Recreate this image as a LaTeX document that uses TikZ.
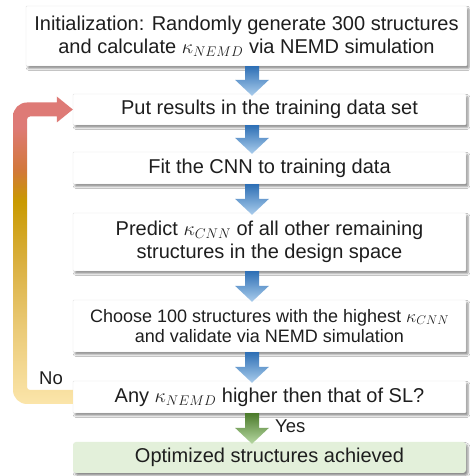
\RequirePackage{fix-cm}
\documentclass[tikz,border=0pt]{standalone}
\usepackage{fontspec}
\setmainfont{Liberation Sans}
\usetikzlibrary{calc,shadows.blur}

\definecolor{txt}{HTML}{1E1E1E}
\definecolor{boxedge}{HTML}{E4E4E4}
\definecolor{donefill}{HTML}{E3F0DA}
\definecolor{blueA}{HTML}{2E6FB5}
\definecolor{blueB}{HTML}{AACDEC}
\definecolor{greenA}{HTML}{4B7B2B}
\definecolor{greenB}{HTML}{B6D7A2}
\definecolor{loopA}{HTML}{FBE5AA}
\definecolor{loopB}{HTML}{EBCB78}
\definecolor{loopC}{HTML}{DAB040}
\definecolor{loopD}{HTML}{C99A00}
\definecolor{loopE}{HTML}{D2783A}
\definecolor{loopF}{HTML}{DE7A76}

% colour ramp of the feedback loop, bottom (light yellow) to top (salmon)
\pgfdeclareverticalshading{loopshade}{100bp}{%
  color(0bp)=(loopA); color(25bp)=(loopA); color(37bp)=(loopB);
  color(48bp)=(loopC); color(58bp)=(loopD); color(63bp)=(loopE);
  color(70bp)=(loopF); color(100bp)=(loopF)}

% block arrow from the bottom of #1 to the top of #2, shaded #3 -> #4
\newcommand\flowarrow[4]{%
  \shade[top color=#3,bottom color=#4]
    let \p1=(#1.south), \p2=(#2.north) in
    (245,\y1) -- (259,\y1) -- (259,\y2+14) -- (269,\y2+14) -- (252,\y2-2)
    -- (235,\y2+14) -- (245,\y2+14) -- cycle;}

\begin{document}
\begin{tikzpicture}[x=1pt,y=1pt,
  stepbox/.style={fill=white, draw=boxedge, line width=0.4pt,
    rounded corners=1pt, inner sep=0pt, align=center, text=txt,
    minimum width=393pt, font=\fontsize{20}{23}\selectfont,
    blur shadow={shadow xshift=2pt, shadow yshift=-2.5pt,
      shadow blur radius=2pt, shadow opacity=45}},
  smallbox/.style={stepbox, font=\fontsize{18}{20.5}\selectfont},
  donebox/.style={stepbox, fill=donefill, draw=none, rounded corners=3pt},
  tag/.style={inner sep=0pt, text=txt, anchor=base west,
    font=\fontsize{18.5}{20}\selectfont}]
\useasboundingbox (0,0) rectangle (470,476);
\fill[white] (0,0) rectangle (470,476);

% process steps
\node[stepbox, minimum width=441pt, minimum height=60pt] (init) at (246.5,440)
  {Initialization: Randomly generate 300 structures\\
   and calculate $\kappa_{NEMD}$ via NEMD simulation};
\node[stepbox, minimum height=31pt] (train) at (269.5,366.5)
  {Put results in the training data set};
\node[stepbox, minimum height=32pt] (fit) at (269.5,308)
  {Fit the CNN to training data};
\node[stepbox, minimum height=58pt] (pred) at (269.5,234)
  {Predict $\kappa_{CNN}$ of all other remaining\\
   structures in the design space};
\node[smallbox, minimum height=52pt] (pick) at (269.5,150)
  {Choose 100 structures with the highest $\kappa_{CNN}$\\
   and validate via NEMD simulation};
\node[stepbox, minimum height=32pt] (test) at (269.5,79)
  {Any $\kappa_{NEMD}$ higher then that of SL?};
\node[donebox, minimum height=31pt] (done) at (269.5,18.5)
  {Optimized structures achieved};

% feedback loop from the decision back to the training set
\shade[shading=loopshade]
  let \p1=(test.west), \p2=(train.west) in
  (\x1,\y1-7) -- (27,\y1-7) arc[start angle=270,end angle=180,radius=14]
  -- (13,\y2-7) arc[start angle=180,end angle=90,radius=14]
  -- (\x2-16,\y2+7) -- (\x2-16,\y2+13) -- (\p2) -- (\x2-16,\y2-13)
  -- (\x2-16,\y2-7) -- (30,\y2-7) arc[start angle=90,end angle=180,radius=3]
  -- (27,\y1+10) arc[start angle=180,end angle=270,radius=3]
  -- (\x1,\y1+7) -- cycle;

% forward arrows
\flowarrow{init}{train}{blueA}{blueB}
\flowarrow{train}{fit}{blueA}{blueB}
\flowarrow{fit}{pred}{blueA}{blueB}
\flowarrow{pred}{pick}{blueA}{blueB}
\flowarrow{pick}{test}{blueA}{blueB}
\flowarrow{test}{done}{greenA}{greenB}

% branch labels
\node[tag] (no) at (39,91) {No};
\node[tag] (yes) at (275,43) {Yes};
\end{tikzpicture}
\end{document}
